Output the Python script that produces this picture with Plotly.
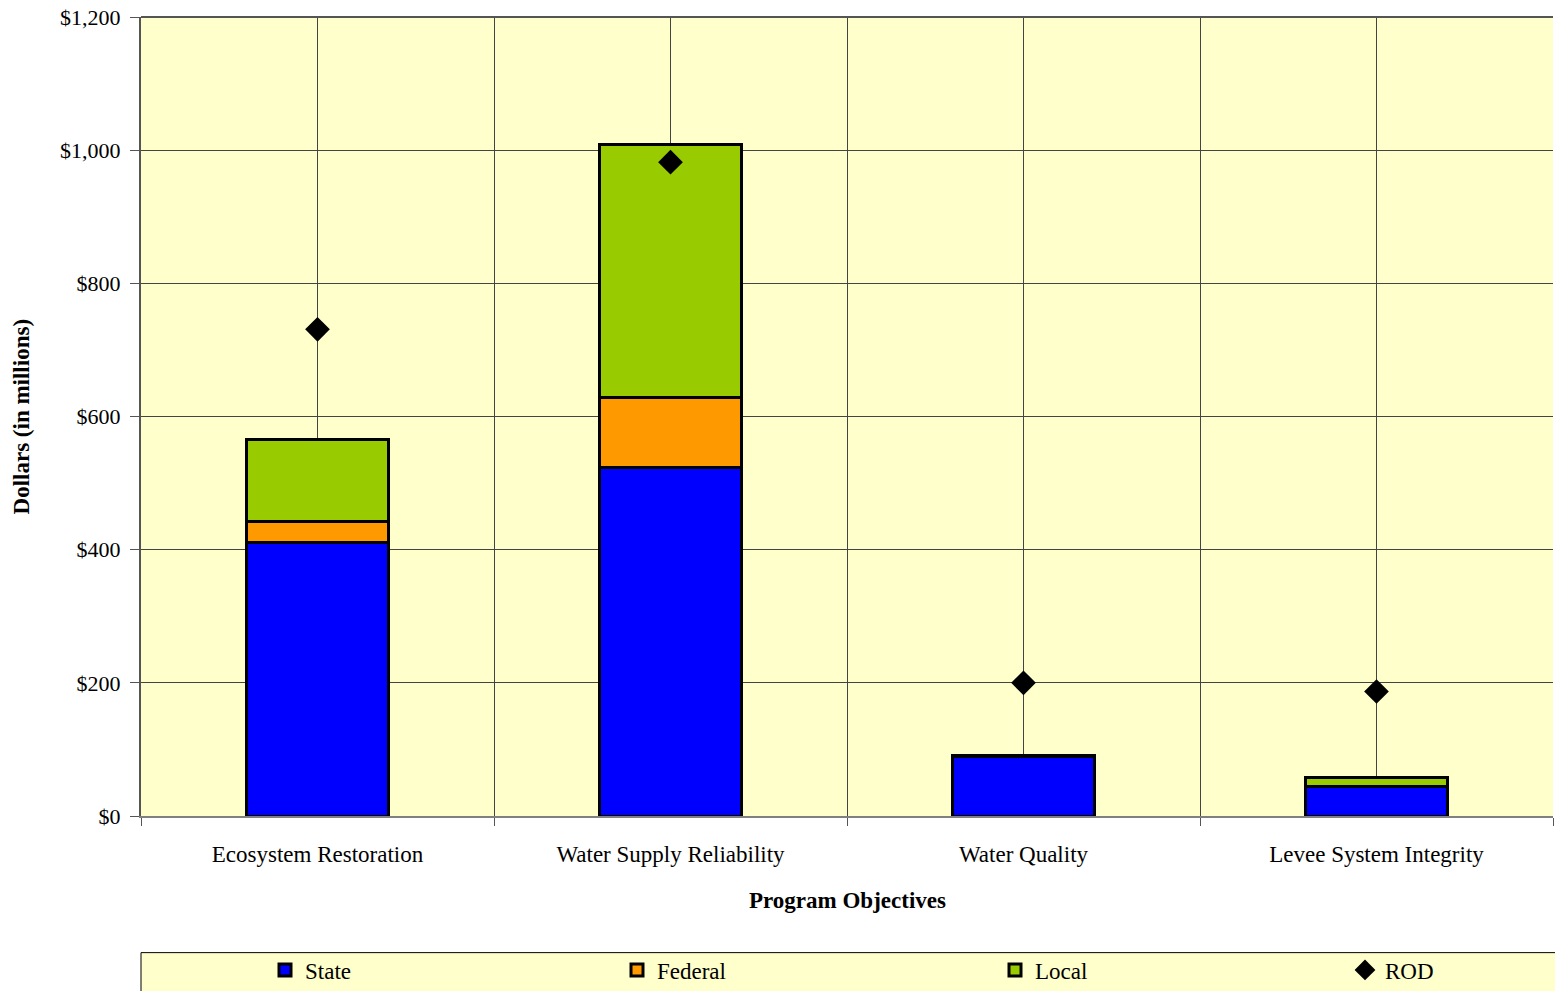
import plotly.graph_objects as go

categories = ["Ecosystem Restoration", "Water Supply Reliability", "Water Quality", "Levee System Integrity"]
state = [411, 524, 89, 45]
federal = [32, 104, 0, 0]
local = [122, 380, 2, 13]
rod = [731, 982, 200, 187]
y_ticks = [0, 200, 400, 600, 800, 1000, 1200]
y_labels = ["$0", "$200", "$400", "$600", "$800", "$1,000", "$1,200"]

FONT = "Liberation Serif"
BG = "#FFFFCC"

def serif(s):
    return "<span style='font-family:Liberation Serif,serif'>" + s + "</span>"

fig = go.Figure()
bar_specs = [("State", state, "#0000FF", "legend"), ("Federal", federal, "#FF9900", "legend2"),
             ("Local", local, "#99CC00", "legend3")]
for name, vals, col, lg in bar_specs:
    fig.add_trace(go.Bar(x=categories, y=vals, name=serif(name), width=0.4, legend=lg,
                         marker=dict(color=col, line=dict(color="black", width=3))))
fig.add_trace(go.Scatter(x=categories, y=rod, name=serif("ROD"), mode="markers", legend="legend4",
                         marker=dict(symbol="diamond", size=19, color="black")))

# vertical gridlines at category centres
for c in categories:
    fig.add_shape(type="line", xref="x", yref="paper", x0=c, x1=c, y0=0, y1=1,
                  line=dict(color="#444444", width=1), layer="below")
# legend box
fig.add_shape(type="rect", xref="paper", yref="paper", x0=0, x1=1.002, y0=-0.24, y1=-0.171,
              line=dict(color="black", width=1), fillcolor=BG, layer="below")

fig.add_annotation(text="<b>Program Objectives</b>", xref="paper", yref="paper", x=0.5, y=-0.106,
                   showarrow=False, xanchor="center", yanchor="middle",
                   font=dict(family=FONT, size=23, color="black"))
fig.add_annotation(text="<b>Dollars (in millions)</b>", xref="paper", yref="paper", x=-0.0843, y=0.5,
                   textangle=-90, showarrow=False, xanchor="center", yanchor="middle",
                   font=dict(family=FONT, size=23, color="black"))

def leg(xpx):
    return dict(orientation="h", x=(xpx - 141) / 1412, y=-0.1927, xanchor="left", yanchor="middle",
                bgcolor="rgba(0,0,0,0)", font=dict(family=FONT, size=23, color="black"))

fig.update_layout(
    width=1555, height=991, barmode="stack",
    margin=dict(l=141, r=2, t=17, b=175, autoexpand=False),
    paper_bgcolor="white", plot_bgcolor=BG,
    font=dict(family=FONT, size=22, color="black"),
    showlegend=True,
    legend=leg(265), legend2=leg(617), legend3=leg(995), legend4=leg(1345),
    xaxis=dict(range=[-0.5, 3.5], tickson="boundaries", showgrid=True, gridcolor="#444444", gridwidth=1,
               ticks="outside", ticklen=8, tickcolor="#555555", ticklabelstandoff=16,
               showline=True, linecolor="#808080", linewidth=2,
               tickfont=dict(family=FONT, size=23), fixedrange=True),
    yaxis=dict(range=[0, 1200], tickvals=y_ticks, ticktext=y_labels,
               showgrid=True, gridcolor="#444444", gridwidth=1,
               ticks="outside", ticklen=9, tickcolor="#555555", ticklabelstandoff=5,
               showline=True, linecolor="#555555", linewidth=2, zeroline=False,
               tickfont=dict(family=FONT, size=22)),
)
# top border line
fig.add_shape(type="line", xref="paper", yref="paper", x0=0, x1=1, y0=1, y1=1,
              line=dict(color="#555555", width=2))

fig.write_html("out.html")
